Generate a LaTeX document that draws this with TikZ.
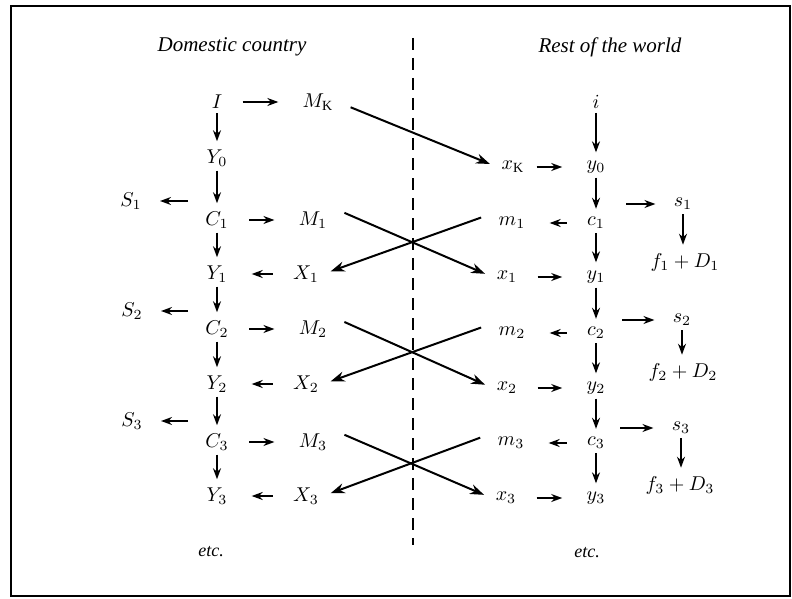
\documentclass[tikz,border=0pt]{standalone}
\usepackage{fontspec}
\setmainfont{Liberation Serif}
\usetikzlibrary{arrows.meta}

\begin{document}
\begin{tikzpicture}[x=0.5pt,y=-0.5pt,>={Stealth[length=5.5pt,width=4pt]},
 var/.style={inner sep=2pt,font=\fontsize{10}{12}\selectfont},
 head/.style={inner sep=1pt,font=\fontsize{10.5}{12}\selectfont\itshape},
 link/.style={->,line width=0.8pt},
 hlink/.style={link,shorten <=8pt,shorten >=10pt},
 vlink/.style={link,shorten >=2pt},
 slink/.style={link,shorten >=7pt},
 cross/.style={-{Stealth[length=7pt,width=5pt]},line width=1pt,shorten <=7pt,shorten >=4pt}]
 \useasboundingbox (0,0) rectangle (792,599);
 \draw[line width=1.1pt] (11,6) rectangle (790,596);
 \node[head] (dhead) at (232,47) {Domestic country};
 \node[head] (rhead) at (610,47) {Rest of the world};
 \draw[line width=1pt,dash pattern=on 6pt off 4pt] (413,38) -- (413,545);
 % domestic country
 \node[var] (dI) at (217,102) {$I$};
 \node[var] (dMK) at (318,102) {$M_{\mathrm{K}}$};
 \node[var] (dY0) at (217,158) {$Y_0$};
 \node[var] (dS1) at (131,201) {$S_1$};
 \node[var] (dC1) at (217,220) {$C_1$};
 \node[var] (dM1) at (313,220) {$M_1$};
 \node[var] (dY1) at (217,274) {$Y_1$};
 \node[var] (dX1) at (306,274) {$X_1$};
 \node[var] (dS2) at (132,311) {$S_2$};
 \node[var] (dC2) at (217,329) {$C_2$};
 \node[var] (dM2) at (313,329) {$M_2$};
 \node[var] (dY2) at (217,384) {$Y_2$};
 \node[var] (dX2) at (306,384) {$X_2$};
 \node[var] (dS3) at (132,421) {$S_3$};
 \node[var] (dC3) at (217,442) {$C_3$};
 \node[var] (dM3) at (313,442) {$M_3$};
 \node[var] (dY3) at (217,496) {$Y_3$};
 \node[var] (dX3) at (306,496) {$X_3$};
 \node[head,font=\fontsize{9}{11}\selectfont\itshape] (detc) at (211,552) {etc.};
 \coordinate (dS1o) at (188,201);
 \coordinate (dS2o) at (188,311);
 \coordinate (dS3o) at (188,421);
 % rest of the world
 \node[var] (ri) at (596,102) {$i$};
 \node[var] (rxK) at (513,167) {$x_{\mathrm{K}}$};
 \node[var] (ry0) at (596,167) {$y_0$};
 \node[var] (rs1) at (683,204) {$s_1$};
 \node[var] (rm1) at (512,223) {$m_1$};
 \node[var] (rc1) at (596,223) {$c_1$};
 \node[var] (rfD1) at (685,262) {$f_1 + D_1$};
 \node[var] (rx1) at (507,277) {$x_1$};
 \node[var] (ry1) at (596,277) {$y_1$};
 \node[var] (rs2) at (682,320) {$s_2$};
 \node[var] (rm2) at (512,333) {$m_2$};
 \node[var] (rc2) at (596,333) {$c_2$};
 \node[var] (rfD2) at (683,372) {$f_2 + D_2$};
 \node[var] (rx2) at (507,388) {$x_2$};
 \node[var] (ry2) at (596,388) {$y_2$};
 \node[var] (rs3) at (681,428) {$s_3$};
 \node[var] (rm3) at (511,443) {$m_3$};
 \node[var] (rc3) at (596,443) {$c_3$};
 \node[var] (rfD3) at (680,485) {$f_3 + D_3$};
 \node[var] (rx3) at (506,498) {$x_3$};
 \node[var] (ry3) at (596,498) {$y_3$};
 \node[head,font=\fontsize{9}{11}\selectfont\itshape] (retc) at (587,553) {etc.};
 \coordinate (rs1o) at (626,204);
 \coordinate (rs2o) at (622,320);
 \coordinate (rs3o) at (620,428);
 % domestic arrows
 \draw[hlink] (dI) -- (dMK);
 \draw[vlink] (dI) -- (dY0);
 \draw[vlink] (dY0) -- (dC1);
 \draw[slink] (dS1o) -- (dS1);
 \draw[hlink] (dC1) -- (dM1);
 \draw[vlink] (dC1) -- (dY1);
 \draw[hlink] (dX1) -- (dY1);
 \draw[vlink] (dY1) -- (dC2);
 \draw[slink] (dS2o) -- (dS2);
 \draw[hlink] (dC2) -- (dM2);
 \draw[vlink] (dC2) -- (dY2);
 \draw[hlink] (dX2) -- (dY2);
 \draw[vlink] (dY2) -- (dC3);
 \draw[slink] (dS3o) -- (dS3);
 \draw[hlink] (dC3) -- (dM3);
 \draw[vlink] (dC3) -- (dY3);
 \draw[hlink] (dX3) -- (dY3);
 % rest of the world arrows
 \draw[vlink] (ri) -- (ry0);
 \draw[hlink,shorten <=4pt] (rxK) -- (ry0);
 \draw[vlink] (ry0) -- (rc1);
 \draw[slink] (rs1o) -- (rs1);
 \draw[vlink] (rs1.south) -- (rs1.south |- rfD1.north);
 \draw[hlink] (rc1) -- (rm1);
 \draw[vlink] (rc1) -- (ry1);
 \draw[hlink] (rx1) -- (ry1);
 \draw[vlink] (ry1) -- (rc2);
 \draw[slink] (rs2o) -- (rs2);
 \draw[vlink] (rs2.south) -- (rs2.south |- rfD2.north);
 \draw[hlink] (rc2) -- (rm2);
 \draw[vlink] (rc2) -- (ry2);
 \draw[hlink] (rx2) -- (ry2);
 \draw[vlink] (ry2) -- (rc3);
 \draw[slink] (rs3o) -- (rs3);
 \draw[vlink] (rs3.south) -- (rs3.south |- rfD3.north);
 \draw[hlink] (rc3) -- (rm3);
 \draw[vlink] (rc3) -- (ry3);
 \draw[hlink] (rx3) -- (ry3);
 % trade between the two
 \draw[cross] (dMK.east) -- (rxK.west);
 \draw[cross] (dM1.north east) -- (rx1.west);
 \draw[cross] (rm1.north west) -- (dX1.east);
 \draw[cross] (dM2.north east) -- (rx2.west);
 \draw[cross] (rm2.north west) -- (dX2.east);
 \draw[cross] (dM3.north east) -- (rx3.west);
 \draw[cross] (rm3.north west) -- (dX3.east);
\end{tikzpicture}
\end{document}
